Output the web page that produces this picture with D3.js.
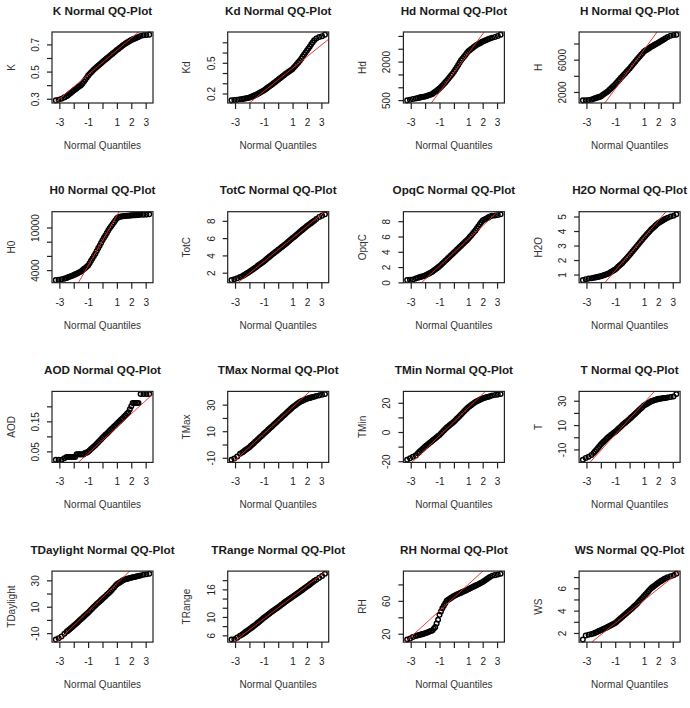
<!DOCTYPE html>
<html>
<head>
<meta charset="utf-8">
<script src="https://cdn.jsdelivr.net/npm/d3@7"></script>
<style>
  body { margin: 0; background: #fff; }
  svg text { font-family: "Liberation Sans", Arial, sans-serif; }
</style>
</head>
<body>
<div id="chart"></div>
<script>
// theoretical normal quantiles (x of every panel)
const quantiles = [-3.25, -3.05, -2.85, -2.65,
  -2.5, -2.4, -2.3, -2.2, -2.1, -2.0, -1.9, -1.8, -1.7, -1.6,
  -1.5, -1.4, -1.3, -1.2, -1.1, -1.0, -0.9, -0.8, -0.7, -0.6,
  -0.5, -0.4, -0.3, -0.2, -0.1, 0, 0.1, 0.2, 0.3, 0.4,
  0.5, 0.6, 0.7, 0.8, 0.9, 1.0, 1.1, 1.2, 1.3, 1.4,
  1.5, 1.6, 1.7, 1.8, 1.9, 2.0, 2.1, 2.2, 2.3, 2.4,
  2.5, 2.65, 2.85, 3.05, 3.25];

const variables = ["K", "Kd", "Hd", "H", "H0", "TotC", "OpqC", "H2O",
  "AOD", "TMax", "TMin", "T", "TDaylight", "TRange", "RH", "WS"];

// sample quantiles
const K = [0.288, 0.292, 0.300, 0.310,
  0.318, 0.326, 0.335, 0.343, 0.352, 0.360, 0.368, 0.376, 0.384, 0.392,
  0.400, 0.410, 0.425, 0.440, 0.455, 0.470, 0.482, 0.493, 0.504, 0.515,
  0.525, 0.534, 0.543, 0.552, 0.561, 0.570, 0.579, 0.588, 0.597, 0.606,
  0.615, 0.624, 0.632, 0.641, 0.649, 0.658, 0.666, 0.675, 0.683, 0.692,
  0.700, 0.706, 0.713, 0.719, 0.726, 0.732, 0.737, 0.741, 0.746, 0.750,
  0.755, 0.762, 0.767, 0.770, 0.772];
const Kd = [0.133, 0.137, 0.140, 0.143,
  0.145, 0.148, 0.151, 0.154, 0.157, 0.160, 0.166, 0.172, 0.178, 0.184,
  0.190, 0.198, 0.206, 0.214, 0.222, 0.230, 0.240, 0.250, 0.260, 0.270,
  0.280, 0.291, 0.302, 0.313, 0.324, 0.335, 0.346, 0.357, 0.368, 0.379,
  0.390, 0.400, 0.410, 0.420, 0.430, 0.440, 0.456, 0.472, 0.488, 0.504,
  0.520, 0.540, 0.560, 0.580, 0.600, 0.620, 0.640, 0.660, 0.680, 0.700,
  0.720, 0.738, 0.752, 0.760, 0.775];
const Hd = [490, 510, 540, 565,
  585, 596, 607, 618, 629, 640, 660, 680, 700, 720,
  740, 782, 824, 866, 908, 950, 1010, 1070, 1130, 1190,
  1250, 1320, 1390, 1460, 1530, 1600, 1690, 1780, 1870, 1960,
  2050, 2120, 2190, 2260, 2330, 2400, 2444, 2488, 2532, 2576,
  2620, 2652, 2684, 2716, 2748, 2780, 2804, 2828, 2852, 2876,
  2900, 2930, 2960, 3000, 3050];
const H = [960, 980, 1000, 1050,
  1150, 1210, 1270, 1330, 1390, 1450, 1580, 1710, 1840, 1970,
  2100, 2270, 2440, 2610, 2780, 2950, 3150, 3350, 3550, 3750,
  3950, 4140, 4330, 4520, 4710, 4900, 5120, 5340, 5560, 5780,
  6000, 6200, 6400, 6600, 6800, 7000, 7120, 7240, 7360, 7480,
  7600, 7700, 7800, 7900, 8000, 8100, 8210, 8320, 8430, 8540,
  8650, 8800, 8950, 9050, 9100];
const H0 = [2600, 2650, 2720, 2800,
  2900, 2980, 3060, 3140, 3220, 3300, 3400, 3500, 3600, 3700,
  3800, 3970, 4140, 4310, 4480, 4650, 4980, 5310, 5640, 5970,
  6300, 6680, 7060, 7440, 7820, 8200, 8540, 8880, 9220, 9560,
  9900, 10180, 10460, 10740, 11020, 11300, 11420, 11500, 11540, 11570,
  11600, 11620, 11640, 11660, 11680, 11700, 11712, 11724, 11736, 11748,
  11760, 11780, 11790, 11810, 11850];
const TotC = [1.15, 1.25, 1.35, 1.50,
  1.60, 1.70, 1.80, 1.90, 2.00, 2.10, 2.22, 2.34, 2.46, 2.58,
  2.70, 2.82, 2.94, 3.06, 3.18, 3.30, 3.44, 3.58, 3.72, 3.86,
  4.00, 4.13, 4.26, 4.39, 4.52, 4.65, 4.78, 4.91, 5.04, 5.17,
  5.30, 5.44, 5.58, 5.72, 5.86, 6.00, 6.14, 6.28, 6.42, 6.56,
  6.70, 6.84, 6.98, 7.12, 7.26, 7.40, 7.52, 7.64, 7.76, 7.88,
  8.00, 8.20, 8.45, 8.60, 8.75];
const OpqC = [0.30, 0.33, 0.37, 0.50,
  0.60, 0.66, 0.72, 0.78, 0.84, 0.90, 1.00, 1.10, 1.20, 1.30,
  1.40, 1.54, 1.68, 1.82, 1.96, 2.10, 2.28, 2.46, 2.64, 2.82,
  3.00, 3.18, 3.36, 3.54, 3.72, 3.90, 4.08, 4.26, 4.44, 4.62,
  4.80, 4.98, 5.16, 5.34, 5.52, 5.70, 5.92, 6.14, 6.36, 6.58,
  6.80, 7.07, 7.34, 7.60, 7.85, 8.10, 8.20, 8.30, 8.40, 8.50,
  8.60, 8.70, 8.75, 8.80, 8.90];
const H2O = [0.62, 0.68, 0.72, 0.75,
  0.78, 0.80, 0.82, 0.84, 0.86, 0.88, 0.91, 0.95, 0.98, 1.02,
  1.05, 1.11, 1.17, 1.23, 1.29, 1.35, 1.44, 1.53, 1.62, 1.71,
  1.80, 1.91, 2.02, 2.13, 2.24, 2.35, 2.47, 2.59, 2.71, 2.83,
  2.95, 3.07, 3.19, 3.31, 3.43, 3.55, 3.66, 3.77, 3.88, 3.99,
  4.10, 4.19, 4.28, 4.37, 4.46, 4.55, 4.61, 4.67, 4.73, 4.79,
  4.85, 4.92, 5.00, 5.05, 5.15];
const AOD = [0.022, 0.022, 0.022, 0.027,
  0.031, 0.031, 0.031, 0.031, 0.031, 0.031, 0.031, 0.040, 0.040, 0.040,
  0.040, 0.040, 0.040, 0.045, 0.045, 0.049, 0.053, 0.058, 0.062, 0.066,
  0.070, 0.075, 0.080, 0.085, 0.090, 0.095, 0.100, 0.105, 0.109, 0.114,
  0.119, 0.124, 0.128, 0.133, 0.137, 0.142, 0.147, 0.151, 0.156, 0.160,
  0.165, 0.170, 0.175, 0.180, 0.190, 0.200, 0.211, 0.211, 0.211, 0.211,
  0.211, 0.241, 0.241, 0.241, 0.241];
const TMax = [-11.5, -10.5, -9, -7,
  -6.0, -5.2, -4.4, -3.6, -2.8, -2.0, -1.0, 0.0, 1.0, 2.0,
  3, 4, 5, 6, 7, 8, 9, 10, 11, 12,
  13, 14, 15, 16, 17, 18, 19, 20, 21, 22,
  23, 24, 25, 26, 27, 28, 28.8, 29.6, 30.4, 31.2,
  32.0, 32.5, 33.0, 33.5, 34.0, 34.5, 34.8, 35.1, 35.4, 35.7,
  36, 36.5, 37, 37.5, 38];
const TMin = [-19, -18, -17, -16,
  -14.5, -13.6, -12.7, -11.8, -10.9, -10.0, -9.2, -8.4, -7.6, -6.8,
  -6.0, -5.2, -4.4, -3.6, -2.8, -2.0, -1.0, 0.0, 1.0, 2.0,
  3.0, 3.8, 4.6, 5.4, 6.2, 7.0, 8.0, 9.0, 10.0, 11.0,
  12, 13, 14, 15, 16, 17, 17.7, 18.4, 19.1, 19.8,
  20.5, 21.0, 21.5, 22.0, 22.5, 23.0, 23.3, 23.6, 23.9, 24.2,
  24.5, 25, 25.3, 25.6, 26];
const T = [-18.5, -17, -16, -14.5,
  -13.0, -11.6, -10.2, -8.8, -7.4, -6.0, -4.8, -3.6, -2.4, -1.2,
  0.0, 0.9, 1.8, 2.7, 3.6, 4.5, 5.6, 6.7, 7.8, 8.9,
  10, 11, 12, 13, 14, 15, 16.1, 17.2, 18.3, 19.4,
  20.5, 21.6, 22.7, 23.8, 24.9, 26.0, 26.7, 27.4, 28.1, 28.8,
  29.5, 29.9, 30.3, 30.7, 31.1, 31.5, 31.66, 31.82, 31.98, 32.14,
  32.3, 32.6, 33, 33.5, 35.5];
const TDaylight = [-14.8, -13.8, -12.5, -10.5,
  -9.0, -8.1, -7.2, -6.3, -5.4, -4.5, -3.5, -2.5, -1.5, -0.5,
  0.5, 1.5, 2.5, 3.5, 4.5, 5.5, 6.6, 7.7, 8.8, 9.9,
  11, 12, 13, 14, 15, 16, 17, 18, 19, 20,
  21.0, 22.2, 23.4, 24.6, 25.8, 27.0, 27.7, 28.4, 29.1, 29.8,
  30.5, 30.8, 31.1, 31.4, 31.7, 32.0, 32.26, 32.52, 32.78, 33.04,
  33.3, 33.7, 34.2, 34.6, 35];
const TRange = [5.10, 5.15, 5.50, 5.90,
  6.20, 6.42, 6.64, 6.86, 7.08, 7.30, 7.54, 7.78, 8.02, 8.26,
  8.50, 8.76, 9.02, 9.28, 9.54, 9.80, 10.04, 10.28, 10.52, 10.76,
  11.00, 11.22, 11.44, 11.66, 11.88, 12.10, 12.34, 12.58, 12.82, 13.06,
  13.30, 13.52, 13.74, 13.96, 14.18, 14.40, 14.62, 14.84, 15.06, 15.28,
  15.50, 15.72, 15.94, 16.16, 16.38, 16.60, 16.84, 17.08, 17.32, 17.56,
  17.80, 18.1, 18.5, 18.9, 19.4];
const RH = [13, 14, 16, 17.3,
  18.0, 18.5, 19.0, 19.5, 20.0, 20.5, 21.2, 21.9, 22.6, 23.3,
  24, 26, 28, 32.5, 37, 43, 47, 51, 54, 57,
  60.0, 61.2, 62.4, 63.6, 64.8, 66.0, 66.8, 67.6, 68.4, 69.2,
  70.0, 70.8, 71.6, 72.4, 73.2, 74.0, 74.9, 75.8, 76.7, 77.6,
  78.5, 79.4, 80.3, 81.2, 82.1, 83.0, 84.2, 85.4, 86.6, 87.8,
  89, 90.5, 91.3, 92, 93];
const WS = [1.42, 1.78, 1.85, 1.90,
  1.95, 2.01, 2.07, 2.13, 2.19, 2.25, 2.31, 2.37, 2.43, 2.49,
  2.55, 2.62, 2.69, 2.76, 2.83, 2.90, 3.01, 3.12, 3.23, 3.34,
  3.45, 3.56, 3.67, 3.78, 3.89, 4.00, 4.12, 4.24, 4.36, 4.48,
  4.60, 4.74, 4.88, 5.02, 5.16, 5.30, 5.44, 5.58, 5.72, 5.86,
  6.00, 6.10, 6.20, 6.30, 6.40, 6.50, 6.58, 6.66, 6.74, 6.82,
  6.90, 6.98, 7.07, 7.16, 7.30];

const samples = [K, Kd, Hd, H, H0, TotC, OpqC, H2O,
  AOD, TMax, TMin, T, TDaylight, TRange, RH, WS];

// red reference line: value = lineMean + lineSd * quantile
const lineMean = [0.567, 0.334, 1567, 4800, 8150, 4.65, 3.9, 2.42,
  0.087, 18, 7, 15.2, 17, 12, 64, 3.9];
const lineSd = [0.0895, 0.113, 753, 2420, 3530, 1.36, 1.75, 1.15,
  0.044, 10, 9.5, 13.0, 10.6, 2.4, 16, 1.03];

const xTicks = [-3, -2, -1, 0, 1, 2, 3];
const xTickLabels = [-3, -1, 1, 2, 3];

const yTicks = [
  [0.3, 0.4, 0.5, 0.6, 0.7], [0.2, 0.3, 0.4, 0.5, 0.6, 0.7],
  [500, 1000, 1500, 2000, 2500, 3000], [2000, 4000, 6000, 8000],
  [4000, 6000, 8000, 10000], [2, 4, 6, 8], [0, 2, 4, 6, 8], [1, 2, 3, 4, 5],
  [0.05, 0.10, 0.15, 0.20], [-10, 0, 10, 20, 30], [-20, -10, 0, 10, 20], [-10, 0, 10, 20, 30],
  [-10, 0, 10, 20, 30], [6, 8, 10, 12, 14, 16, 18], [20, 40, 60, 80], [2, 3, 4, 5, 6, 7]
];
const yTickLabels = [
  [0.3, 0.5, 0.7], [0.2, 0.5], [500, 2000], [2000, 6000],
  [4000, 10000], [2, 4, 6, 8], [0, 2, 4, 6, 8], [1, 2, 3, 4, 5],
  [0.05, 0.15], [-10, 10, 30], [-20, 0, 20], [-10, 10, 30],
  [-10, 10, 30], [6, 10, 16], [20, 60], [2, 4, 6]
];

const width = 690, height = 708;
const panelW = 101, panelH = 71;
const left0 = 52, top0 = 32, colStep = 175.7, rowStep = 179.7;

const svg = d3.select("#chart").append("svg")
  .attr("width", width)
  .attr("height", height);

svg.append("rect").attr("width", width).attr("height", height).attr("fill", "#fff");

// R style range: data extent widened by 4% on each side
function padded(vals) {
  const [a, b] = d3.extent(vals);
  const p = (b - a) * 0.04;
  return [a - p, b + p];
}

variables.forEach((name, i) => {
  const col = i % 4, row = Math.floor(i / 4);
  const vals = samples[i];
  const pts = quantiles.map((q, k) => [q, vals[k]]);

  const g = svg.append("g")
    .attr("transform", `translate(${left0 + col * colStep},${top0 + row * rowStep})`);

  const x = d3.scaleLinear().domain(padded(quantiles)).range([0, panelW]);
  const y = d3.scaleLinear().domain(padded(vals)).range([panelH, 0]);

  g.append("clipPath").attr("id", "clip" + i)
    .append("rect").attr("width", panelW).attr("height", panelH);

  // points
  g.append("g").selectAll("circle")
    .data(pts)
    .enter().append("circle")
    .attr("cx", d => x(d[0]))
    .attr("cy", d => y(d[1]))
    .attr("r", 2.3)
    .attr("fill", "none")
    .attr("stroke", "#000")
    .attr("stroke-width", 1.45);

  // reference line
  const xd = x.domain();
  g.append("line")
    .attr("clip-path", `url(#clip${i})`)
    .attr("x1", x(xd[0])).attr("y1", y(lineMean[i] + lineSd[i] * xd[0]))
    .attr("x2", x(xd[1])).attr("y2", y(lineMean[i] + lineSd[i] * xd[1]))
    .attr("stroke", "#e8261e")
    .attr("stroke-width", 0.9);

  // box
  g.append("rect")
    .attr("width", panelW).attr("height", panelH)
    .attr("fill", "none").attr("stroke", "#222").attr("stroke-width", 1.2);

  // x axis
  const xAxis = g.append("g")
    .attr("transform", `translate(0,${panelH})`)
    .call(d3.axisBottom(x).tickValues(xTicks).tickSize(6)
      .tickFormat(d => xTickLabels.includes(d) ? String(d) : ""));
  xAxis.select(".domain").remove();
  xAxis.selectAll("line").attr("stroke", "#222").attr("stroke-width", 1.2);
  xAxis.selectAll("text")
    .attr("y", 23).attr("dy", 0)
    .style("font-size", "10px").attr("fill", "#222");

  // y axis, labels parallel to the axis
  const yAxis = g.append("g")
    .call(d3.axisLeft(y).tickValues(yTicks[i]).tickSize(5)
      .tickFormat(d => yTickLabels[i].includes(d) ? String(d) : ""));
  yAxis.select(".domain").remove();
  yAxis.selectAll("line").attr("stroke", "#222").attr("stroke-width", 1.2);
  yAxis.selectAll("text")
    .attr("x", 0).attr("y", -13).attr("dy", 0)
    .attr("transform", "rotate(-90)")
    .attr("text-anchor", "middle")
    .style("font-size", "10px").attr("fill", "#222");

  // title
  g.append("text")
    .attr("x", panelW / 2).attr("y", -17.5)
    .attr("text-anchor", "middle")
    .style("font-size", "11.7px").style("font-weight", "bold")
    .attr("fill", "#1a1a1a")
    .text(name + " Normal QQ-Plot");

  // x label
  g.append("text")
    .attr("x", panelW / 2).attr("y", panelH + 46)
    .attr("text-anchor", "middle")
    .style("font-size", "10px").attr("fill", "#333")
    .text("Normal Quantiles");

  // y label
  g.append("text")
    .attr("transform", `translate(-37.5,${panelH / 2}) rotate(-90)`)
    .attr("text-anchor", "middle")
    .style("font-size", "10px").attr("fill", "#333")
    .text(name);
});
</script>
</body>
</html>
